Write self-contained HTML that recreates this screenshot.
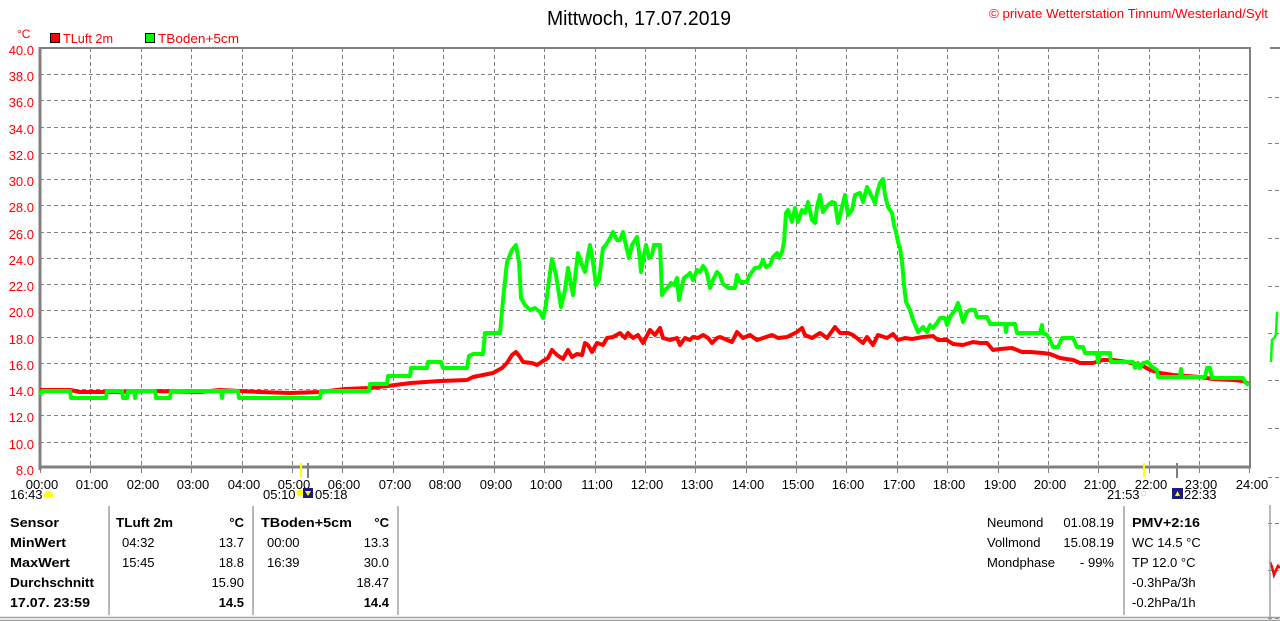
<!DOCTYPE html>
<html><head><meta charset="utf-8"><style>
html,body{margin:0;padding:0;background:#fff;}
svg{display:block;font-family:"Liberation Sans",sans-serif;}
</style></head><body>
<svg width="1280" height="621" viewBox="0 0 1280 621" xmlns="http://www.w3.org/2000/svg">
<rect width="1280" height="621" fill="#fff"/>
<!-- title -->
<text x="547" y="25" font-size="20" fill="#000" textLength="184" lengthAdjust="spacingAndGlyphs">Mittwoch, 17.07.2019</text>
<text x="989" y="18" font-size="13" fill="#f00" textLength="279" lengthAdjust="spacingAndGlyphs">© private Wetterstation Tinnum/Westerland/Sylt</text>
<!-- legend -->
<text x="17" y="38" font-size="12" fill="#f00">°C</text>
<rect x="50.5" y="33.5" width="9" height="9" fill="#f00" stroke="#000" stroke-width="1"/>
<text x="63" y="43" font-size="13" fill="#f00" textLength="50" lengthAdjust="spacingAndGlyphs">TLuft 2m</text>
<rect x="145.5" y="33.5" width="9" height="9" fill="#0f0" stroke="#000" stroke-width="1"/>
<text x="158" y="43" font-size="13" fill="#f00" textLength="81" lengthAdjust="spacingAndGlyphs">TBoden+5cm</text>
<!-- grid -->
<g stroke="#808080" stroke-width="1" stroke-dasharray="4,3">
<line x1="40" y1="74.5" x2="1250" y2="74.5"/><line x1="40" y1="100.5" x2="1250" y2="100.5"/><line x1="40" y1="127.5" x2="1250" y2="127.5"/><line x1="40" y1="153.5" x2="1250" y2="153.5"/><line x1="40" y1="179.5" x2="1250" y2="179.5"/><line x1="40" y1="205.5" x2="1250" y2="205.5"/><line x1="40" y1="232.5" x2="1250" y2="232.5"/><line x1="40" y1="258.5" x2="1250" y2="258.5"/><line x1="40" y1="284.5" x2="1250" y2="284.5"/><line x1="40" y1="310.5" x2="1250" y2="310.5"/><line x1="40" y1="337.5" x2="1250" y2="337.5"/><line x1="40" y1="363.5" x2="1250" y2="363.5"/><line x1="40" y1="389.5" x2="1250" y2="389.5"/><line x1="40" y1="415.5" x2="1250" y2="415.5"/><line x1="40" y1="442.5" x2="1250" y2="442.5"/>
<line x1="90.5" y1="48" x2="90.5" y2="468"/><line x1="141.5" y1="48" x2="141.5" y2="468"/><line x1="191.5" y1="48" x2="191.5" y2="468"/><line x1="242.5" y1="48" x2="242.5" y2="468"/><line x1="292.5" y1="48" x2="292.5" y2="468"/><line x1="342.5" y1="48" x2="342.5" y2="468"/><line x1="393.5" y1="48" x2="393.5" y2="468"/><line x1="443.5" y1="48" x2="443.5" y2="468"/><line x1="494.5" y1="48" x2="494.5" y2="468"/><line x1="544.5" y1="48" x2="544.5" y2="468"/><line x1="595.5" y1="48" x2="595.5" y2="468"/><line x1="645.5" y1="48" x2="645.5" y2="468"/><line x1="695.5" y1="48" x2="695.5" y2="468"/><line x1="746.5" y1="48" x2="746.5" y2="468"/><line x1="796.5" y1="48" x2="796.5" y2="468"/><line x1="846.5" y1="48" x2="846.5" y2="468"/><line x1="897.5" y1="48" x2="897.5" y2="468"/><line x1="947.5" y1="48" x2="947.5" y2="468"/><line x1="998.5" y1="48" x2="998.5" y2="468"/><line x1="1048.5" y1="48" x2="1048.5" y2="468"/><line x1="1098.5" y1="48" x2="1098.5" y2="468"/><line x1="1149.5" y1="48" x2="1149.5" y2="468"/><line x1="1199.5" y1="48" x2="1199.5" y2="468"/>
<!-- right partial chart ticks -->
<line x1="1268" y1="97.5" x2="1280" y2="97.5"/><line x1="1268" y1="143.5" x2="1280" y2="143.5"/><line x1="1268" y1="190.5" x2="1280" y2="190.5"/><line x1="1268" y1="238.5" x2="1280" y2="238.5"/><line x1="1268" y1="286.5" x2="1280" y2="286.5"/><line x1="1268" y1="333.5" x2="1280" y2="333.5"/><line x1="1268" y1="380.5" x2="1280" y2="380.5"/><line x1="1268" y1="428.5" x2="1280" y2="428.5"/><line x1="1268" y1="477.5" x2="1280" y2="477.5"/><line x1="1268" y1="523.5" x2="1280" y2="523.5"/><line x1="1268" y1="570.5" x2="1280" y2="570.5"/><line x1="1268" y1="618.5" x2="1280" y2="618.5"/>
</g>
<!-- frame -->
<g stroke="#808080" fill="none">
<line x1="40" y1="47" x2="40" y2="470" stroke-width="3"/>
<line x1="39" y1="467" x2="1251" y2="467" stroke-width="3"/>
<line x1="39" y1="48" x2="1251" y2="48" stroke-width="2"/>
<line x1="1250" y1="47" x2="1250" y2="468" stroke-width="2"/>
<line x1="1270" y1="48" x2="1280" y2="48" stroke-width="2"/>
</g>
<!-- x ticks -->
<g stroke="#808080" stroke-width="1">
<line x1="40.5" y1="468" x2="40.5" y2="473"/><line x1="90.5" y1="468" x2="90.5" y2="473"/><line x1="141.5" y1="468" x2="141.5" y2="473"/><line x1="191.5" y1="468" x2="191.5" y2="473"/><line x1="242.5" y1="468" x2="242.5" y2="473"/><line x1="292.5" y1="468" x2="292.5" y2="473"/><line x1="342.5" y1="468" x2="342.5" y2="473"/><line x1="393.5" y1="468" x2="393.5" y2="473"/><line x1="443.5" y1="468" x2="443.5" y2="473"/><line x1="494.5" y1="468" x2="494.5" y2="473"/><line x1="544.5" y1="468" x2="544.5" y2="473"/><line x1="595.5" y1="468" x2="595.5" y2="473"/><line x1="645.5" y1="468" x2="645.5" y2="473"/><line x1="695.5" y1="468" x2="695.5" y2="473"/><line x1="746.5" y1="468" x2="746.5" y2="473"/><line x1="796.5" y1="468" x2="796.5" y2="473"/><line x1="846.5" y1="468" x2="846.5" y2="473"/><line x1="897.5" y1="468" x2="897.5" y2="473"/><line x1="947.5" y1="468" x2="947.5" y2="473"/><line x1="998.5" y1="468" x2="998.5" y2="473"/><line x1="1048.5" y1="468" x2="1048.5" y2="473"/><line x1="1098.5" y1="468" x2="1098.5" y2="473"/><line x1="1149.5" y1="468" x2="1149.5" y2="473"/><line x1="1199.5" y1="468" x2="1199.5" y2="473"/><line x1="1249.5" y1="468" x2="1249.5" y2="473"/>
</g>
<!-- y labels -->
<g font-size="13" fill="#f00" text-anchor="end">
<text x="34" y="55">40.0</text><text x="34" y="81">38.0</text><text x="34" y="107">36.0</text><text x="34" y="134">34.0</text><text x="34" y="160">32.0</text><text x="34" y="186">30.0</text><text x="34" y="212">28.0</text><text x="34" y="239">26.0</text><text x="34" y="265">24.0</text><text x="34" y="291">22.0</text><text x="34" y="317">20.0</text><text x="34" y="344">18.0</text><text x="34" y="370">16.0</text><text x="34" y="396">14.0</text><text x="34" y="422">12.0</text><text x="34" y="449">10.0</text><text x="34" y="475">8.0</text>
</g>
<!-- x labels -->
<g font-size="13" fill="#000" text-anchor="middle">
<text x="42" y="489">00:00</text><text x="92" y="489">01:00</text><text x="143" y="489">02:00</text><text x="193" y="489">03:00</text><text x="244" y="489">04:00</text><text x="294" y="489">05:00</text><text x="344" y="489">06:00</text><text x="395" y="489">07:00</text><text x="445" y="489">08:00</text><text x="496" y="489">09:00</text><text x="546" y="489">10:00</text><text x="597" y="489">11:00</text><text x="647" y="489">12:00</text><text x="697" y="489">13:00</text><text x="748" y="489">14:00</text><text x="798" y="489">15:00</text><text x="848" y="489">16:00</text><text x="899" y="489">17:00</text><text x="949" y="489">18:00</text><text x="1000" y="489">19:00</text><text x="1050" y="489">20:00</text><text x="1100" y="489">21:00</text><text x="1151" y="489">22:00</text><text x="1201" y="489">23:00</text><text x="1252" y="489">24:00</text>
</g>
<!-- sun / moon markers -->
<g font-size="13" fill="#000">
<text x="10" y="499">16:43</text>
<text x="263" y="499">05:10</text>
<text x="315" y="499">05:18</text>
<text x="1107" y="499">21:53</text>
<text x="1184" y="499">22:33</text>
</g>
<path d="M44 497 Q44 491 48.5 491 Q53 491 53 497 Z" fill="#ff0"/>
<line x1="301" y1="463" x2="301" y2="477" stroke="#ff0" stroke-width="2"/>
<line x1="308" y1="463" x2="308" y2="478" stroke="#808080" stroke-width="2"/>
<circle cx="300" cy="493" r="3.5" fill="#ff0"/>
<rect x="303" y="488" width="10" height="10" fill="#1a1a80"/>
<path d="M305 491 L308 496 L311 491 Z" fill="#ff0"/>
<line x1="1144" y1="463" x2="1144" y2="477" stroke="#ff0" stroke-width="2"/>
<line x1="1177" y1="463" x2="1177" y2="478" stroke="#808080" stroke-width="2"/>
<rect x="1141.5" y="491.5" width="4" height="4" fill="none" stroke="#ff0" stroke-width="1"/>
<rect x="1172" y="488" width="11" height="11" fill="#1a1a80"/>
<path d="M1175 496 L1177.5 491 L1180 496 Z" fill="#ff0"/>
<!-- series -->
<polyline fill="none" stroke="#f00" stroke-width="4" stroke-linejoin="round" points="40,390 70,390 80,392 120,392 150,391 200,392 220,390 260,392 290,393 320,392 345,389 369,388 387,386 411,383 440,381 467,380 473,377 483,375 493,373 502,368 507,363 512,355 516,352 520,357 523,362 532,363 537,365 543,361 548,358 552,350 557,355 563,359 568,350 572,357 577,354 582,355 585,343 588,345 592,352 597,343 603,345 607,338 613,337 620,333 625,338 628,333 633,338 638,335 643,343 650,330 655,335 660,328 663,338 670,340 677,338 680,345 685,338 690,340 693,337 698,338 703,335 708,338 712,343 717,338 720,337 732,342 737,332 743,338 750,335 757,340 763,338 772,335 778,338 787,337 797,332 802,328 805,335 812,338 820,333 827,338 835,327 840,333 848,333 853,335 863,343 867,337 873,345 878,335 887,338 893,334 898,340 905,338 912,339 923,337 933,336 938,340 947,340 953,344 963,345 973,342 980,343 987,343 993,350 1000,349 1012,348 1022,352 1030,352 1043,353 1050,354 1060,358 1073,360 1080,363 1093,363 1103,360 1113,360 1127,362 1143,366 1150,370 1160,373 1173,375 1200,377 1213,379 1233,380 1243,381 1249,384"/>
<polyline fill="none" stroke="#0f0" stroke-width="4" stroke-linejoin="round" points="40,395 42,391 70,391 71,398 106,398 107,391 122,391 123,398 127,398 128,391 134,391 135,398 136,391 155,391 156,398 170,398 171,391 221,391 222,398 223,391 238,391 239,398 320,398 321,391 369,391 370,384 387,384 388,376 410,376 411,368 427,368 428,362 441,362 443,368 467,368 469,356 473,354 483,354 485,333 500,333 503,300 507,262 512,250 516,245 519,262 521,298 525,305 530,310 535,308 540,312 543,318 546,305 549,280 552,259 556,275 561,307 565,290 568,268 571,285 573,295 576,270 578,253 582,265 585,272 588,255 590,245 593,262 596,285 599,280 603,248 606,245 610,238 613,232 617,240 620,240 623,232 626,245 629,258 632,245 637,237 640,260 641,272 644,255 646,245 649,258 652,255 654,245 660,245 662,295 665,290 668,287 671,283 674,285 677,278 679,300 681,290 684,278 688,275 690,273 693,280 697,270 700,272 703,266 706,270 708,278 710,288 713,280 717,272 720,275 723,284 728,288 735,288 737,275 740,282 747,282 749,276 755,268 760,267 763,260 766,267 770,265 773,257 777,253 779,258 782,252 784,242 786,213 788,210 792,222 795,208 798,222 802,210 805,213 808,202 812,220 815,223 817,207 820,195 823,212 828,205 832,202 835,203 838,223 842,207 845,195 848,215 852,210 855,195 860,193 863,202 867,187 870,193 875,203 877,193 880,183 883,179 885,195 888,207 892,213 894,225 896,232 898,242 900,248 902,262 904,285 906,302 910,310 913,320 918,332 923,327 927,332 930,325 933,328 937,323 940,318 945,318 947,325 950,317 955,310 958,303 960,310 963,322 967,312 970,310 975,310 977,317 987,317 990,324 1005,324 1006,332 1007,324 1015,324 1017,333 1040,333 1042,325 1043,333 1047,335 1050,340 1053,347 1058,347 1062,338 1073,338 1077,347 1083,347 1085,353 1097,353 1098,362 1100,353 1110,353 1111,362 1133,362 1135,368 1138,363 1140,368 1143,363 1148,362 1152,367 1157,370 1158,377 1180,377 1181,369 1182,377 1205,377 1207,368 1210,368 1212,378 1243,378 1246,383 1249,385"/>
<!-- right partial series -->
<polyline fill="none" stroke="#0f0" stroke-width="2.5" points="1271,362 1272,340 1275,337 1276,333 1277,313 1278,312"/>
<polyline fill="none" stroke="#f00" stroke-width="2.5" points="1270,562 1272,567 1274,575 1276,570 1278,566 1280,568"/>
<!-- table lines -->
<g stroke="#a0a0a0" stroke-width="1.5">
<line x1="109" y1="506" x2="109" y2="615"/>
<line x1="253" y1="506" x2="253" y2="615"/>
<line x1="398" y1="506" x2="398" y2="615"/>
<line x1="1124" y1="506" x2="1124" y2="615"/>
<line x1="1270" y1="505" x2="1270" y2="621"/>
<line x1="0" y1="617.5" x2="1280" y2="617.5"/>
<line x1="0" y1="620.5" x2="1280" y2="620.5"/>
</g>
<!-- table text -->
<g font-size="13" fill="#000">
<g font-weight="bold">
<text x="10" y="527" textLength="49" lengthAdjust="spacingAndGlyphs">Sensor</text>
<text x="10" y="547" textLength="56" lengthAdjust="spacingAndGlyphs">MinWert</text>
<text x="10" y="567" textLength="60" lengthAdjust="spacingAndGlyphs">MaxWert</text>
<text x="10" y="587" textLength="84" lengthAdjust="spacingAndGlyphs">Durchschnitt</text>
<text x="10" y="607" textLength="80" lengthAdjust="spacingAndGlyphs">17.07. 23:59</text>
<text x="116" y="527" textLength="57" lengthAdjust="spacingAndGlyphs">TLuft 2m</text>
<text x="244" y="527" text-anchor="end">°C</text>
<text x="244" y="607" text-anchor="end">14.5</text>
<text x="261" y="527" textLength="91" lengthAdjust="spacingAndGlyphs">TBoden+5cm</text>
<text x="389" y="527" text-anchor="end">°C</text>
<text x="389" y="607" text-anchor="end">14.4</text>
<text x="1132" y="527" textLength="68" lengthAdjust="spacingAndGlyphs">PMV+2:16</text>
</g>
<text x="122" y="547">04:32</text>
<text x="244" y="547" text-anchor="end">13.7</text>
<text x="122" y="567">15:45</text>
<text x="244" y="567" text-anchor="end">18.8</text>
<text x="244" y="587" text-anchor="end">15.90</text>
<text x="267" y="547">00:00</text>
<text x="389" y="547" text-anchor="end">13.3</text>
<text x="267" y="567">16:39</text>
<text x="389" y="567" text-anchor="end">30.0</text>
<text x="389" y="587" text-anchor="end">18.47</text>
<text x="987" y="527">Neumond</text>
<text x="1114" y="527" text-anchor="end">01.08.19</text>
<text x="987" y="547">Vollmond</text>
<text x="1114" y="547" text-anchor="end">15.08.19</text>
<text x="987" y="567">Mondphase</text>
<text x="1114" y="567" text-anchor="end">- 99%</text>
<text x="1132" y="547">WC 14.5 °C</text>
<text x="1132" y="567">TP 12.0 °C</text>
<text x="1132" y="587">-0.3hPa/3h</text>
<text x="1132" y="607">-0.2hPa/1h</text>
</g>
</svg>
</body></html>
